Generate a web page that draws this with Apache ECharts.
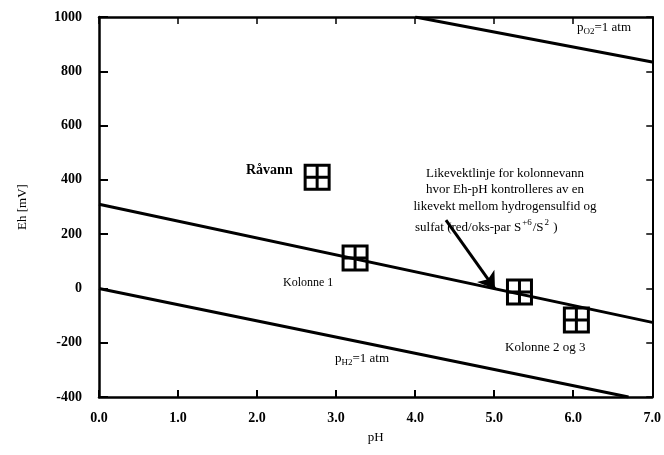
<!DOCTYPE html>
<html>
<head>
<meta charset="utf-8">
<script src="https://cdn.jsdelivr.net/npm/echarts@6/dist/echarts.min.js"></script>
<style>html,body{margin:0;padding:0;background:#fff}#c{width:664px;height:455px}</style>
</head>
<body>
<div id="c"></div>
<script>
// Data
const xTicks = [0, 1, 2, 3, 4, 5, 6, 7];
const yTicks = [-400, -200, 0, 200, 400, 600, 800, 1000];
const o2Line = [[4.0, 1000], [7.0, 834]];
const sulfLine = [[0.0, 310], [7.0, -125]];
const h2Line = [[0.0, 0], [6.7, -400]];
const samples = [[2.76, 410], [3.24, 112], [5.32, -13], [6.04, -116]];
const sampleNames = ['Råvann', 'Kolonne 1', 'Kolonne 2', 'Kolonne 3'];
const arrowFrom = [4.39, 252];
const arrowTo = [5.01, -2];

const serif = '"Liberation Serif", "DejaVu Serif", serif';
const chart = echarts.init(document.getElementById('c'));
const lineStyle = { color: '#000', width: 3 };
const boxSym = 'path://M0,0L10,0L10,10L0,10Z M5,0L5,10 M0,5L10,5';

chart.setOption({
  animation: false,
  grid: { left: 99, right: 10, top: 17, bottom: 58 },
  xAxis: [{
    type: 'value', min: 0, max: 7, interval: 1, position: 'bottom',
    name: 'pH', nameLocation: 'middle', nameGap: 34,
    nameTextStyle: { fontFamily: serif, fontSize: 13, color: '#000' },
    axisLine: { onZero: false, lineStyle: { color: '#000', width: 2.5 } },
    axisTick: { inside: true, length: 7, lineStyle: { color: '#000', width: 2 } },
    axisLabel: { fontFamily: serif, fontSize: 14, fontWeight: 'bold', color: '#000', margin: 14,
      formatter: v => v.toFixed(1) },
    splitLine: { show: false }
  }, {
    type: 'value', min: 0, max: 7, interval: 1, position: 'top',
    axisLine: { onZero: false, lineStyle: { color: '#000', width: 2.5 } },
    axisTick: { inside: true, length: 7, lineStyle: { color: '#000', width: 1.5 } },
    axisLabel: { show: false }, splitLine: { show: false }
  }],
  yAxis: [{
    type: 'value', min: -400, max: 1000, interval: 200, position: 'left',
    name: 'Eh [mV]', nameLocation: 'middle', nameGap: 70, nameRotate: 90,
    nameTextStyle: { fontFamily: serif, fontSize: 13, color: '#000' },
    axisLine: { show: true, onZero: false, lineStyle: { color: '#000', width: 2.5 } },
    axisTick: { show: true, inside: true, length: 9, lineStyle: { color: '#000', width: 2 } },
    axisLabel: { fontFamily: serif, fontSize: 14, fontWeight: 'bold', color: '#000', margin: 17,
      formatter: v => String(v) },
    splitLine: { show: false }
  }, {
    type: 'value', min: -400, max: 1000, interval: 200, position: 'right',
    axisLine: { show: true, onZero: false, lineStyle: { color: '#000', width: 2 } },
    axisTick: { show: true, inside: true, length: 6, lineStyle: { color: '#000', width: 1.5 } },
    axisLabel: { show: false }, splitLine: { show: false }
  }],
  series: [
    { type: 'line', data: o2Line, symbol: 'none', lineStyle, silent: true },
    { type: 'line', data: sulfLine, symbol: 'none', lineStyle, silent: true,
      markLine: {
        silent: true, symbol: ['none', 'arrow'], symbolSize: 16,
        lineStyle: { color: '#000', width: 3, type: 'solid' },
        itemStyle: { color: '#000' },
        label: { show: false },
        data: [[{ coord: arrowFrom }, { coord: arrowTo }]]
      } },
    { type: 'line', data: h2Line, symbol: 'none', lineStyle, silent: true },
    { type: 'scatter', data: samples.map((d, i) => ({ value: d, name: sampleNames[i] })),
      symbol: boxSym, symbolSize: 24,
      itemStyle: { color: 'rgba(0,0,0,0)', borderColor: '#000', borderWidth: 3, opacity: 1 }, z: 5 }
  ],
  graphic: [
    { type: 'text', left: 246, top: 163, style: { text: 'Råvann', font: 'bold 14px ' + serif, fill: '#000' } },
    { type: 'text', left: 283, top: 277, style: { text: 'Kolonne 1', font: '12px ' + serif, fill: '#000' } },
    { type: 'text', left: 505, top: 341, style: { text: 'Kolonne 2 og 3', font: '13px ' + serif, fill: '#000' } },
    { type: 'text', left: 577, top: 21, style: {
      text: '{p|p}{s|O2}{p|=1 atm}', fill: '#000',
      rich: { p: { font: '13px ' + serif, fill: '#000' }, s: { font: '9px ' + serif, fill: '#000', padding: [8, 0, 0, 0] } } } },
    { type: 'text', left: 335, top: 352, style: {
      text: '{p|p}{s|H2}{p|=1 atm}', fill: '#000',
      rich: { p: { font: '13px ' + serif, fill: '#000' }, s: { font: '9px ' + serif, fill: '#000', padding: [8, 0, 0, 0] } } } },
    { type: 'text', x: 505, y: 165, style: {
      text: 'Likevektlinje for kolonnevann\nhvor Eh-pH kontrolleres av en\nlikevekt mellom hydrogensulfid og',
      font: '13px ' + serif, fill: '#000', align: 'center', lineHeight: 16.5 } },
    { type: 'text', left: 415, top: 218, style: {
      text: '{t|sulfat (red/oks-par S}{u|+6}{t|/S}{u|2}{t| )}',
      rich: { t: { font: '13px ' + serif, fill: '#000', padding: [4, 0, 0, 0] }, u: { font: '9px ' + serif, fill: '#000', padding: [0, 1, 6, 1] } } } }
  ]
});
</script>
</body>
</html>
